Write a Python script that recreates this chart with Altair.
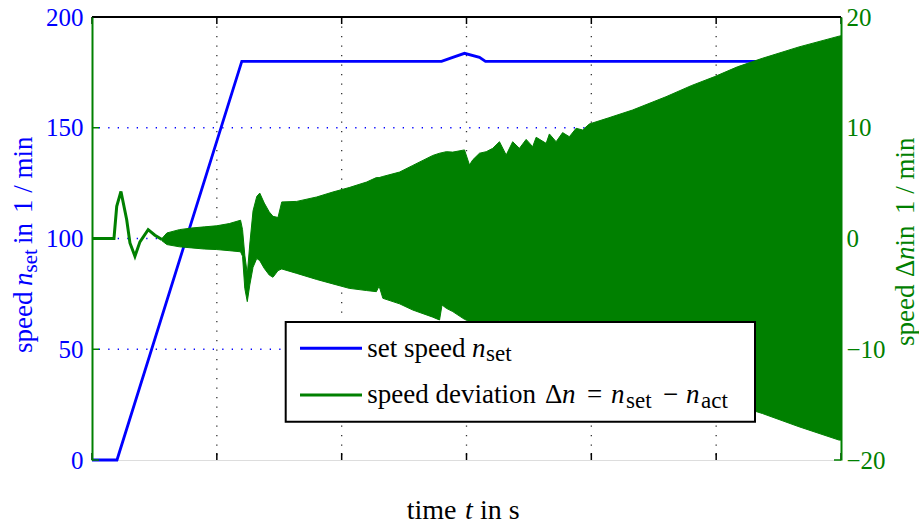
import altair as alt
import pandas as pd

# ---------------- data ----------------
# set speed n_set (left axis, 1/min)
t_set = [0.0, 0.1, 0.6, 1.4, 1.445, 1.492, 1.552, 1.576, 3.0]
n_set = [0, 0, 180, 180, 181.8, 183.6, 181.8, 180, 180]

# speed deviation, early resolved oscillation (right axis, 1/min)
t_early = [0.0, 0.088, 0.099, 0.116, 0.139, 0.152, 0.172, 0.192, 0.225, 0.252, 0.28]
dn_early = [0, 0, 2.9, 4.25, 1.7, -0.4, -1.6, -0.3, 0.8, 0.3, -0.1]

# speed deviation, dense oscillation: upper / lower envelope
t_band = [0.28, 0.30, 0.35, 0.40, 0.45, 0.50, 0.55, 0.595, 0.603, 0.612, 0.622, 0.632,
          0.645, 0.66, 0.672, 0.69, 0.71, 0.725, 0.745, 0.76, 0.82, 0.90, 0.965, 1.03,
          1.10, 1.139, 1.15, 1.165, 1.232, 1.285, 1.365, 1.392, 1.402, 1.419, 1.445,
          1.492, 1.512, 1.525, 1.552, 1.579, 1.605, 1.632, 1.659, 1.685, 1.712, 1.739,
          1.765, 1.779, 1.819, 1.832, 1.859, 1.885, 1.912, 1.939, 1.965, 1.992, 2.07,
          2.165, 2.299, 2.40, 2.492, 2.585, 2.685, 2.832, 2.992, 3.0]
dn_upper = [0.0, 0.5, 0.8, 0.95, 1.05, 1.15, 1.35, 1.65, 0.8, -1.5, -3.2, -0.5,
            2.5, 3.8, 4.1, 3.2, 2.4, 2.0, 1.9, 3.3, 3.35, 3.75, 4.2, 4.6,
            5.1, 5.5, 5.5, 5.6, 6.0, 6.6, 7.5, 7.7, 7.75, 7.84, 7.8,
            8.0, 6.64, 7.1, 7.7, 7.84, 8.14, 8.74, 7.54, 8.74, 8.14, 8.95,
            8.29, 9.14, 8.59, 9.44, 8.74, 9.56, 9.19, 9.95, 9.8, 10.34, 10.9,
            11.6, 12.8, 13.8, 14.6, 15.5, 16.27, 17.3, 18.27, 18.3]
dn_lower = [-0.2, -0.55, -0.75, -0.85, -0.95, -1.0, -1.1, -1.2, -1.6, -4.5, -5.7, -4.2,
            -2.6, -1.8, -2.0, -2.7, -3.3, -3.5, -2.9, -2.75, -3.15, -3.7, -4.1, -4.5,
            -4.7, -4.8, -4.3, -5.4, -5.9, -6.46, -7.1, -7.36, -6.0, -6.3, -6.6,
            -7.3, -7.5, -7.6, -7.8, -8.0, -8.2, -7.4, -8.5, -8.6, -8.8, -9.0,
            -9.1, -9.2, -9.4, -9.5, -9.7, -9.8, -10.0, -10.2, -10.3, -10.5, -11.0,
            -11.6, -12.7, -13.6, -14.4, -15.1, -15.8, -17.0, -18.2, -18.2]

x_ticks = [0, 0.5, 1, 1.5, 2, 2.5, 3]
x_grid = [0.5, 1, 1.5, 2, 2.5]
left_ticks = [0, 50, 100, 150, 200]
left_grid = [50, 100, 150]
right_ticks = [-20, -10, 0, 10, 20]

# ---------------- layout ----------------
L, T = 92, 17          # plot origin on the canvas
W, H = 749, 443        # plot area
FONT = "Liberation Serif, 'Times New Roman', serif"
BLUE = "#0000FF"
GREEN = "#008000"

df_set = pd.DataFrame({"t": t_set, "n": n_set})
df_early = pd.DataFrame({"t": t_early, "dn": dn_early})
df_band = pd.DataFrame({"t": t_band, "up": dn_upper, "lo": dn_lower})

xs = alt.Scale(domain=[0, 3], nice=False, zero=False)
ysL = alt.Scale(domain=[0, 200], nice=False, zero=False)
ysR = alt.Scale(domain=[-20, 20], nice=False, zero=False)

x_axis = alt.Axis(values=x_ticks, format="~g", title=None, ticks=False, tickSize=0,
                  grid=False, labelFont=FONT, labelFontSize=25, labelColor="black",
                  labelPadding=8, labelFlush=False, domainColor="black", domainWidth=2,
                  zindex=1)
yL_axis = alt.Axis(values=left_ticks, format="d", title=None, ticks=False, tickSize=0,
                   grid=False, labelFont=FONT, labelFontSize=25, labelColor=BLUE,
                   labelPadding=9, domainColor=GREEN, domainWidth=2, zindex=1)
yR_axis = alt.Axis(values=right_ticks, format="d", title=None, ticks=False, tickSize=0,
                   grid=False, orient="right", labelFont=FONT, labelFontSize=25,
                   labelColor=GREEN, labelPadding=5, domainColor=GREEN, domainWidth=2,
                   zindex=1)

one = alt.Data(values=[{}])

vgrid = alt.Chart(pd.DataFrame({"t": x_grid})).mark_rule(
    color="#333333", strokeWidth=1.3, strokeDash=[1.3, 8.2]
).encode(x=alt.X("t:Q", scale=xs, axis=None))

hgrid = alt.Chart(pd.DataFrame({"v": left_grid})).mark_rule(
    color=BLUE, strokeWidth=1.3, strokeDash=[1.3, 8.2]
).encode(y=alt.Y("v:Q", scale=ysL, axis=None))

blue = alt.Chart(df_set).mark_line(color=BLUE, strokeWidth=2.8).encode(
    x=alt.X("t:Q", scale=xs, axis=x_axis),
    y=alt.Y("n:Q", scale=ysL, axis=yL_axis),
)

green_line = alt.Chart(df_early).mark_line(color=GREEN, strokeWidth=3).encode(
    x=alt.X("t:Q", scale=xs, axis=None),
    y=alt.Y("dn:Q", scale=ysR, axis=None),
)

green_band = alt.Chart(df_band).mark_area(
    color=GREEN, opacity=1, stroke=GREEN, strokeWidth=1
).encode(
    x=alt.X("t:Q", scale=xs, axis=None),
    y=alt.Y("up:Q", scale=ysR, axis=yR_axis),
    y2="lo:Q",
)

df_xt = pd.DataFrame({"t": x_ticks})
ticks_bottom = alt.Chart(df_xt).mark_rule(color="black", strokeWidth=1.5).encode(
    x=alt.X("t:Q", scale=xs, axis=None), y=alt.value(H - 7), y2=alt.value(H))
ticks_top = alt.Chart(df_xt).mark_rule(color="black", strokeWidth=1.5).encode(
    x=alt.X("t:Q", scale=xs, axis=None), y=alt.value(0), y2=alt.value(7))
ticks_left = alt.Chart(pd.DataFrame({"v": left_ticks})).mark_rule(
    color=GREEN, strokeWidth=1.5).encode(
    y=alt.Y("v:Q", scale=ysL, axis=None), x=alt.value(0), x2=alt.value(7))
ticks_right = alt.Chart(pd.DataFrame({"v": right_ticks})).mark_rule(
    color=GREEN, strokeWidth=1.5).encode(
    y=alt.Y("v:Q", scale=ysR, axis=None), x=alt.value(W - 7), x2=alt.value(W))

top_spine = alt.Chart(one).mark_rule(color="black", strokeWidth=2).encode(
    x=alt.value(0), x2=alt.value(W), y=alt.value(0))

# legend
leg_box = alt.Chart(one).mark_rect(fill="white", stroke="black", strokeWidth=2).encode(
    x=alt.value(285.7 - L), x2=alt.value(755 - L),
    y=alt.value(322 - T), y2=alt.value(421.7 - T))
leg_l1 = alt.Chart(one).mark_rule(color=BLUE, strokeWidth=3).encode(
    x=alt.value(300 - L), x2=alt.value(362 - L), y=alt.value(348.3 - T))
leg_l2 = alt.Chart(one).mark_rule(color=GREEN, strokeWidth=3).encode(
    x=alt.value(300 - L), x2=alt.value(362 - L), y=alt.value(395 - T))


def txt(s, x, y, size, color="black", italic=False, angle=0, align="left",
        baseline="alphabetic"):
    kw = dict(text=s, font=FONT, fontSize=size, color=color, align=align,
              baseline=baseline)
    if italic:
        kw["fontStyle"] = "italic"
    if angle:
        kw["angle"] = angle
    return alt.Chart(one).mark_text(**kw).encode(x=alt.value(x - L), y=alt.value(y - T))


LF, LS = 27, 23
texts = [
    # legend entry 1
    txt("set speed", 367.3, 356.5, LF),
    txt("n", 472, 356.5, LF, italic=True),
    txt("set", 486, 361, LS),
    # legend entry 2
    txt("speed deviation", 367.3, 403, LF),
    txt("\u0394", 545, 403, LF),
    txt("n", 562, 403, LF, italic=True),
    txt("=", 587, 403, LF),
    txt("n", 611, 403, LF, italic=True),
    txt("set", 626, 408, LS),
    txt("\u2212", 663, 403, LF),
    txt("n", 686, 403, LF, italic=True),
    txt("act", 701, 408, LS),
    # x title
    txt("time", 406.7, 519, 28),
    txt("t", 465, 519, 28, italic=True),
    txt("in s", 480, 519, 28),
    # left title (rotated)
    txt("speed", 31.7, 353, 27, BLUE, angle=270),
    txt("n", 31.7, 286, 27, BLUE, italic=True, angle=270),
    txt("set", 37, 272.5, 21, BLUE, angle=270),
    txt("in", 31.7, 244, 27, BLUE, angle=270),
    txt("1 / min", 31.7, 213, 27, BLUE, angle=270),
    # right title (rotated)
    txt("speed", 914, 346, 27, GREEN, angle=270),
    txt("\u0394", 914, 277, 27, GREEN, angle=270),
    txt("n", 914, 260, 27, GREEN, italic=True, angle=270),
    txt("in", 914, 246.5, 27, GREEN, angle=270),
    txt("1 / min", 914, 214, 27, GREEN, angle=270),
]

chart = alt.layer(
    vgrid, hgrid, blue, green_line, green_band,
    ticks_bottom, ticks_top, ticks_left, ticks_right, top_spine,
    leg_box, leg_l1, leg_l2, *texts
).resolve_scale(y="independent").properties(
    width=W, height=H,
    autosize=alt.AutoSizeParams(type="none"),
    padding={"left": L, "top": T, "right": 919 - L - W, "bottom": 525 - T - H},
).configure_view(stroke="transparent", strokeWidth=0).configure(background="white")

chart.save("out.html", embed_options={"renderer": "svg", "actions": False})
